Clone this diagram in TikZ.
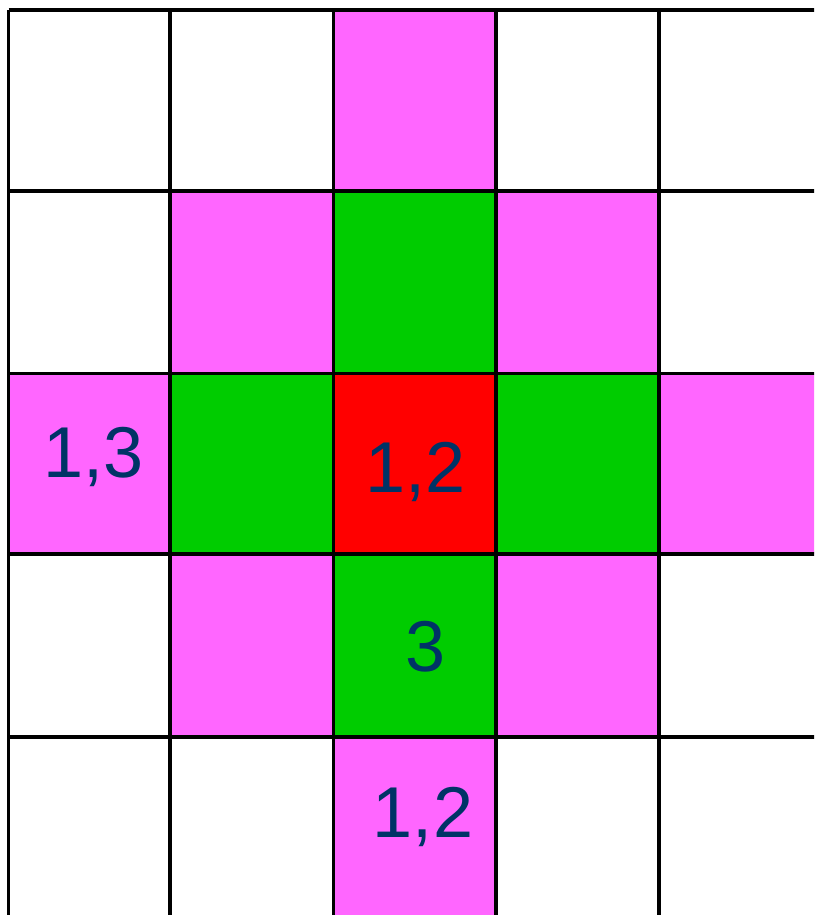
\documentclass[tikz,border=0pt]{standalone}
\usepackage{fontspec}
\setmainfont{Liberation Sans}
\definecolor{mag}{HTML}{FF66FF}
\definecolor{grn}{HTML}{00CC00}
\definecolor{rd}{HTML}{FF0000}
\definecolor{navy}{HTML}{003366}
\tikzset{
  gridline/.style={line width=3.6pt, black},
  lbl/.style={text=navy, anchor=base, inner sep=0pt, font=\fontsize{72}{86}\selectfont}
}
\begin{document}
\begin{tikzpicture}[x=1pt,y=-1pt]
\useasboundingbox (0,0) rectangle (814,915);
\fill[white] (0,0) rectangle (814,915);
\begin{scope}
\clip (0,0) rectangle (814,915);
% columns: 8.5,170,333.5,496,659,822 ; rows: 10,191,373.5,554,737,919
% row 0
\fill[mag] (333.5,10) rectangle (496,191);
% row 1
\fill[mag] (170,191) rectangle (333.5,373.5);
\fill[grn] (333.5,191) rectangle (496,373.5);
\fill[mag] (496,191) rectangle (659,373.5);
% row 2
\fill[mag] (8.5,373.5) rectangle (170,554);
\fill[grn] (170,373.5) rectangle (333.5,554);
\fill[rd] (333.5,373.5) rectangle (496,554);
\fill[grn] (496,373.5) rectangle (659,554);
\fill[mag] (659,373.5) rectangle (822,554);
% row 3
\fill[mag] (170,554) rectangle (333.5,737);
\fill[grn] (333.5,554) rectangle (496,737);
\fill[mag] (496,554) rectangle (659,737);
% row 4
\fill[mag] (333.5,737) rectangle (496,919);
% grid lines
\foreach \x in {8.5,170,333.5,496,659,822}
  \draw[gridline] (\x,10) -- (\x,925);
\foreach \y in {10,191,373.5,554,737,919}
  \draw[gridline] (8.5,\y) -- (825,\y);
\end{scope}
\node[lbl] (t13) at (93.5,477) {1,3};
\node[lbl] (t12c) at (415.5,492) {1,2};
\node[lbl] (t3) at (426,671) {3};
\node[lbl] (t12b) at (423,837) {1,2};
\end{tikzpicture}
\end{document}
